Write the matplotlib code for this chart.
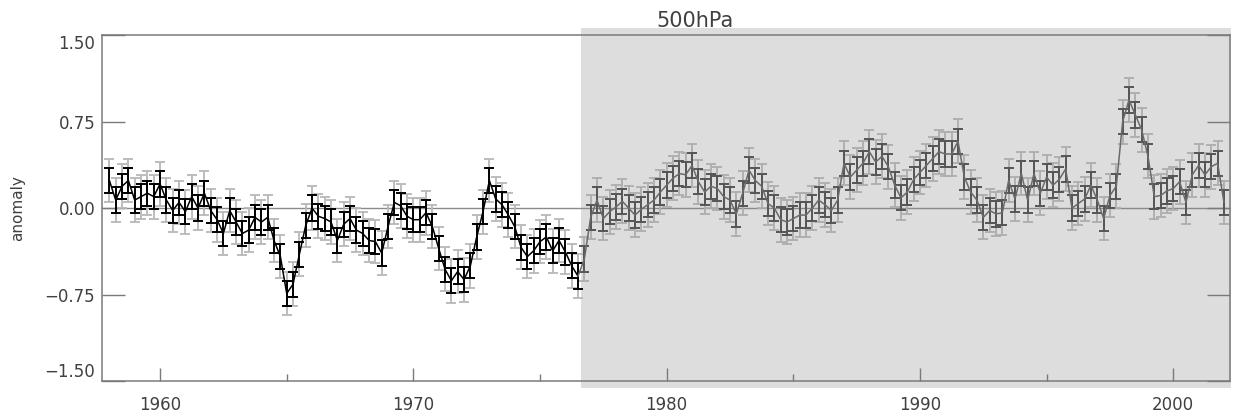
import numpy as np
import matplotlib
matplotlib.use("Agg")
import matplotlib.pyplot as plt
from matplotlib.patches import Rectangle
import matplotlib.transforms as mtransforms

# quarterly anomaly, 1958.0 .. 2002.0
start_year = 1958.0
anomaly = [
    0.24, 0.07, 0.19, 0.24, 0.07, 0.10, 0.13, 0.10, 0.21, 0.07,
    -0.02, 0.05, -0.03, 0.10, 0.00, 0.13, -0.02, -0.10, -0.22, -0.02,
    -0.12, -0.22, -0.19, -0.08, -0.12, -0.08, -0.28, -0.42, -0.74, -0.66,
    -0.40, -0.15, 0.00, -0.07, -0.09, -0.12, -0.28, -0.14, -0.09, -0.19,
    -0.22, -0.28, -0.29, -0.39, -0.16, 0.05, 0.02, -0.07, -0.10, -0.10,
    -0.04, -0.16, -0.35, -0.53, -0.63, -0.55, -0.62, -0.50, -0.25, -0.03,
    0.24, 0.08, 0.03, -0.06, -0.16, -0.34, -0.42, -0.37, -0.29, -0.25,
    -0.37, -0.28, -0.38, -0.50, -0.59, -0.44, -0.08, 0.07, -0.09, -0.03,
    0.01, 0.06, 0.00, -0.06, -0.01, 0.03, 0.07, 0.14, 0.20, 0.26,
    0.30, 0.29, 0.37, 0.23, 0.14, 0.19, 0.17, 0.10, 0.07, -0.05,
    0.13, 0.33, 0.24, 0.19, 0.04, 0.00, -0.10, -0.12, -0.09, -0.06,
    -0.06, 0.00, 0.07, 0.03, -0.02, 0.07, 0.39, 0.27, 0.33, 0.39,
    0.49, 0.40, 0.45, 0.36, 0.20, 0.09, 0.14, 0.25, 0.31, 0.37,
    0.43, 0.49, 0.47, 0.47, 0.58, 0.27, 0.14, 0.07, -0.08, -0.02,
    -0.05, -0.04, 0.24, 0.08, 0.30, 0.07, 0.30, 0.13, 0.27, 0.20,
    0.25, 0.34, 0.00, 0.04, 0.08, 0.20, 0.07, -0.09, 0.11, 0.19,
    0.75, 0.94, 0.81, 0.68, 0.45, 0.10, 0.11, 0.15, 0.17, 0.23,
    0.05, 0.29, 0.37, 0.29, 0.36, 0.39, 0.05,
]
err_inner = 0.11
err_outer = 0.19
shade_start = 1976.625
title = "500hPa"
ylabel = "anomaly"
yticks = [-1.5, -0.75, 0.0, 0.75, 1.5]
ytick_labels = ["\u22121.50", "\u22120.75", "0.00", "0.75", "1.50"]
xticks = [1960, 1970, 1980, 1990, 2000]
xminor = [1965, 1975, 1985, 1995]

anomaly = np.array(anomaly)
years = start_year + 0.25 * np.arange(len(anomaly))
early = years < shade_start
split = np.argmax(~early)

fig = plt.figure(figsize=(12.34, 4.17), dpi=100)
ax = fig.add_axes([0.0829, 0.0863, 0.9139, 0.829])
ax.set_xlim(1957.72, 2002.24)
ax.set_ylim(-1.5, 1.5)

# shaded later period, slightly overhanging the frame
trans = mtransforms.blended_transform_factory(ax.transData, ax.transAxes)
ax.add_patch(Rectangle((shade_start, -0.02), 2002.26 - shade_start, 1.04,
                       transform=trans, facecolor="#dddddd", edgecolor="none",
                       clip_on=False, zorder=0))

ax.axhline(0, color="#8a8a8a", lw=1.0, zorder=1)

cap = 3.4
# early period: black
ax.errorbar(years[early], anomaly[early], yerr=err_outer, fmt="none",
            ecolor="#b8b8b8", elinewidth=1.3, capsize=cap, capthick=1.3, zorder=2)
ax.errorbar(years[early], anomaly[early], yerr=err_inner, fmt="none",
            ecolor="black", elinewidth=1.4, capsize=cap, capthick=1.4, zorder=3)
ax.plot(years[:split], anomaly[:split], color="black", lw=1.1, zorder=4)

# later period: grey
ax.errorbar(years[~early], anomaly[~early], yerr=err_outer, fmt="none",
            ecolor="#adadad", elinewidth=1.3, capsize=cap, capthick=1.3, zorder=2)
ax.errorbar(years[~early], anomaly[~early], yerr=err_inner, fmt="none",
            ecolor="#555555", elinewidth=1.4, capsize=cap, capthick=1.4, zorder=3)
ax.plot(years[split - 1:], anomaly[split - 1:], color="#6a6a6a", lw=1.1, zorder=4)

for s in ax.spines.values():
    s.set_color("#7a7a7a")
    s.set_linewidth(1.1)
    s.set_zorder(5)

ax.set_yticks(yticks)
ax.set_yticklabels(ytick_labels)
ax.set_xticks(xticks)
ax.set_xticks(xminor, minor=True)
ax.tick_params(axis="y", direction="in", length=16.5, width=1.0, color="#7a7a7a",
               right=True, labelsize=12, labelcolor="#404040", pad=5)
ax.tick_params(axis="x", which="major", direction="in", length=9.5, width=1.0,
               color="#7a7a7a", labelsize=12, labelcolor="#404040", pad=11)
ax.tick_params(axis="x", which="minor", direction="in", length=5, width=1.0,
               color="#7a7a7a")
labels = ax.get_yticklabels()
labels[0].set_verticalalignment("bottom")
labels[-1].set_verticalalignment("top")

fig.text(0.0146, 0.5, ylabel, rotation=90, ha="center", va="center",
         fontsize=11, color="#404040")
fig.text(0.563, 0.95, title, ha="center", va="center", fontsize=15, color="#404040")

fig.savefig("out.png", dpi=100)
